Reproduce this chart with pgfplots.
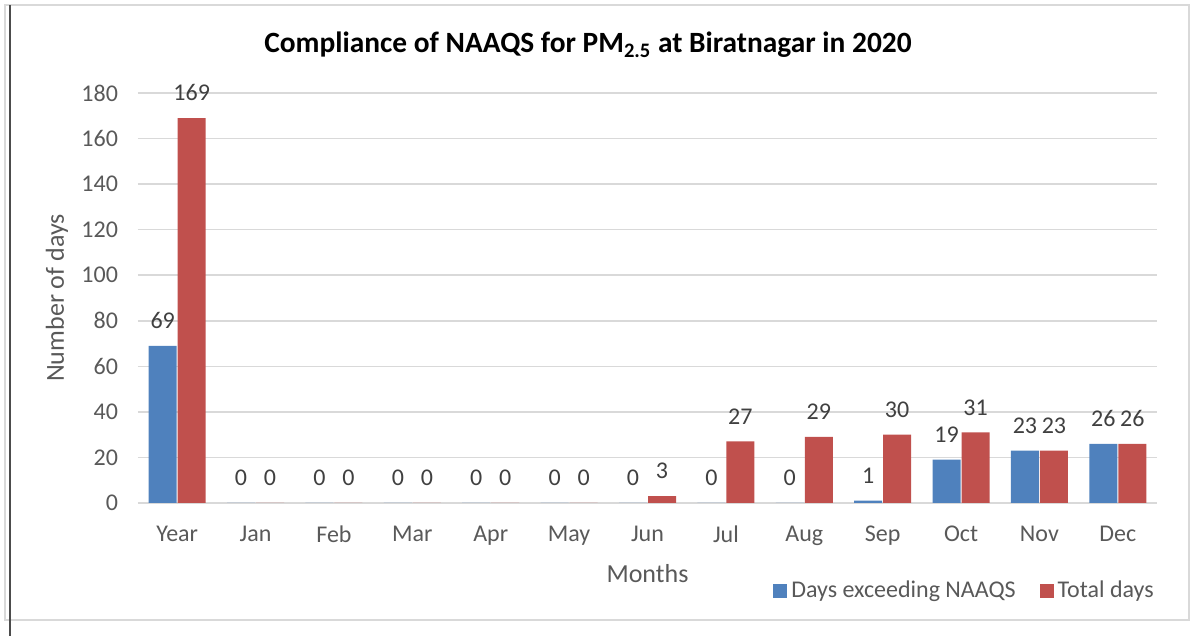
\documentclass[border=0pt]{standalone}
\usepackage{fontspec}
\setmainfont{Carlito}
\usepackage{pgfplots}
\pgfplotsset{compat=1.18}
\definecolor{cblue}{HTML}{4F81BD}
\definecolor{cred}{HTML}{C0504D}
\definecolor{gridc}{HTML}{D9D9D9}
\definecolor{tickc}{HTML}{595959}
\definecolor{labc}{HTML}{404040}
\begin{document}
\begin{tikzpicture}
\path[use as bounding box] (0,0) rectangle (596.5pt,318pt);
\draw[gridc, line width=0.75pt] (2.5pt,8pt) rectangle (594.5pt,315.5pt);
\draw[black!70, line width=0.6pt] (5pt,0pt) -- (5pt,315.5pt);
\begin{axis}[
  at={(69pt,66.5pt)}, anchor=south west,
  scale only axis, width=509.5pt, height=205pt,
  /pgf/number format/assume math mode=true,
  ymin=0, ymax=180, ytick={0,20,...,180},
  xmin=-0.5, xmax=12.5, xtick={0,...,12},
  xticklabels={Year,Jan,Feb,Mar,Apr,May,Jun,Jul,Aug,Sep,Oct,Nov,Dec},
  axis line style={draw=none}, major tick length=0pt,
  ymajorgrids, grid style={gridc, line width=0.75pt},
  ybar=0.5pt, bar width=14pt,
  ticklabel style={font=\fontsize{12}{14}\selectfont, text=tickc},
  yticklabel style={xshift=-6.5pt},
  xticklabel style={yshift=-8pt},
  nodes near coords,
  every node near coord/.append style={font=\fontsize{12}{14}\selectfont, text=labc, yshift=5pt},
  title={Compliance of NAAQS for PM\textsubscript{2.5} at Biratnagar in 2020},
  title style={at={(0.4416,1.117)}, anchor=center, yshift=-6pt, font=\fontsize{14.7}{17}\selectfont\bfseries},
  xlabel={Months},
  xlabel style={at={(0.5,-0.171)}, anchor=center, font=\fontsize{13}{15}\selectfont, text=tickc},
  ylabel={Number of days},
  ylabel style={at={(-0.0795,0.5)}, anchor=center, font=\fontsize{13}{15}\selectfont, text=tickc},
  legend style={at={(1.007,-0.215)}, anchor=east, draw=none, legend columns=2,
    font=\fontsize{12}{14}\selectfont, text=tickc,
    /tikz/every even column/.append style={column sep=10pt}},
  legend image code/.code={\path[#1,draw=none] (0pt,-3.5pt) rectangle (7pt,3.5pt);},
]
\addplot[fill=cblue, draw=none] coordinates {(0,69) (1,0) (2,0) (3,0) (4,0) (5,0) (6,0) (7,0) (8,0) (9,1) (10,19) (11,23) (12,26)};
\addplot[fill=cred, draw=none] coordinates {(0,169) (1,0) (2,0) (3,0) (4,0) (5,0) (6,3) (7,27) (8,29) (9,30) (10,31) (11,23) (12,26)};
\legend{Days exceeding NAAQS, Total days}
\end{axis}
\end{tikzpicture}
\end{document}
